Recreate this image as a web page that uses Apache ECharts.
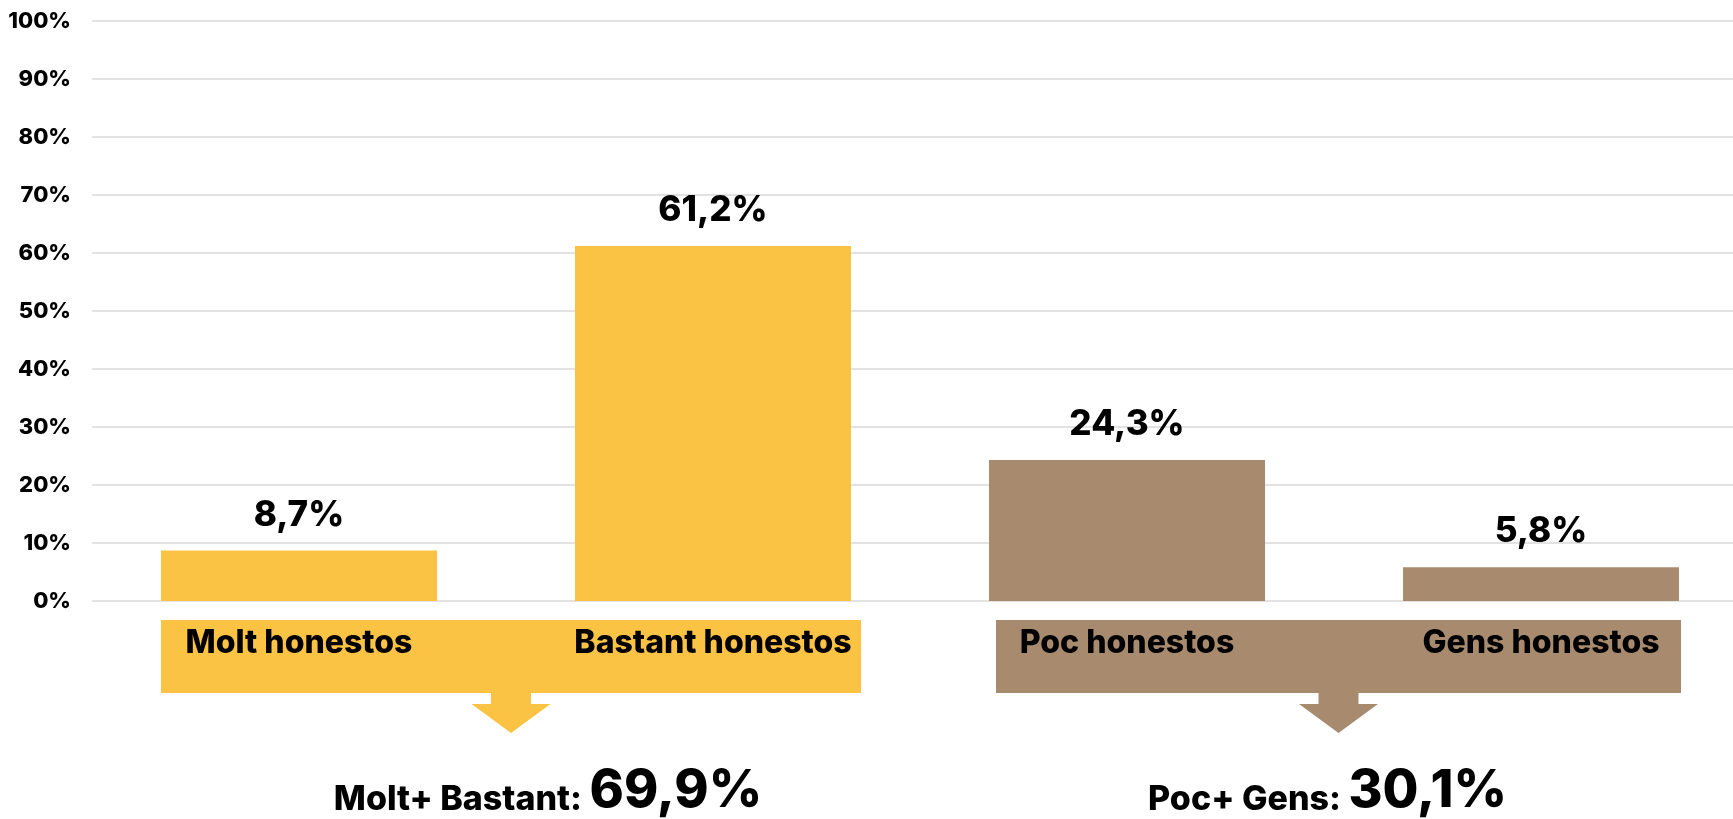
<!DOCTYPE html>
<html><head><meta charset="utf-8">
<script src="https://cdn.jsdelivr.net/npm/echarts@6/dist/echarts.min.js"></script>
<style>html,body{margin:0;padding:0;background:#fff}#c{width:1733px;height:819px}</style>
</head><body><div id="c"></div>
<script>
// ---- data ----
const categories = ['Molt honestos', 'Bastant honestos', 'Poc honestos', 'Gens honestos'];
const values = [8.7, 61.2, 24.3, 5.8];
const yMin = 0, yMax = 100, yStep = 10;
const groupMembers = [[0, 1], [2, 3]];
const groupLabels = ['Molt+ Bastant: ', 'Poc+ Gens: '];
const groupTotals = [69.9, 30.1];

// ---- styles ----
const COLORS = ['#FBC344', '#A88B6E'];
const FONT = 'Inter, Lato, sans-serif';
const W = 800;
const BAR_W = 276;
const fmt = v => v.toFixed(1).replace('.', ',') + '%';
const groupOf = i => groupMembers.findIndex(g => g.indexOf(i) >= 0);

const chart = echarts.init(document.getElementById('c'), null, {renderer: 'canvas'});
chart.setOption({
  animation: false,
  backgroundColor: '#fff',
  grid: {left: 92, top: 21, width: 1656, height: 580, containLabel: false, outerBoundsMode: 'none'},
  xAxis: {
    type: 'category', data: categories, z: 10,
    axisLine: {show: false}, axisTick: {show: false}, splitLine: {show: false},
    axisLabel: {interval: 0, margin: 26, fontFamily: FONT, fontWeight: W, fontSize: 32, color: '#000'}
  },
  yAxis: {
    type: 'value', min: yMin, max: yMax, interval: yStep,
    axisLine: {show: false}, axisTick: {show: false},
    axisLabel: {formatter: '{value}%', margin: 21, fontFamily: FONT, fontWeight: W, fontSize: 22, color: '#000'},
    splitLine: {lineStyle: {color: '#d9d9d9', width: 1.5}}
  },
  series: [{
    type: 'bar', barWidth: BAR_W,
    data: values.map((v, i) => ({value: v, itemStyle: {color: COLORS[groupOf(i)]}})),
    label: {show: true, position: 'top', distance: 18, formatter: p => fmt(p.value),
      fontFamily: FONT, fontWeight: W, fontSize: 35, color: '#000'}
  }]
});

// ---- group boxes, arrows and totals, positioned from the axes ----
const y0 = chart.convertToPixel({yAxisIndex: 0}, 0);
const BOX_PAD = [[0, 10], [7, 2]];
const TEXT_SHIFT = [37, -11];
const elements = [];
groupMembers.forEach((g, k) => {
  const xa = chart.convertToPixel({xAxisIndex: 0}, categories[g[0]]);
  const xb = chart.convertToPixel({xAxisIndex: 0}, categories[g[g.length - 1]]);
  const left = xa - BAR_W / 2 + BOX_PAD[k][0];
  const right = xb + BAR_W / 2 + BOX_PAD[k][1];
  const top = y0 + 19, h = 73;
  const cx = (left + right) / 2;
  elements.push({type: 'rect', z: 1, shape: {x: left, y: top, width: right - left, height: h},
    style: {fill: COLORS[k]}});
  const sb = top + h, sw = 20, hw = 39.5, st = 11, ht = 29;
  elements.push({type: 'polygon', z: 1, shape: {points: [
    [cx - sw, sb], [cx + sw, sb], [cx + sw, sb + st], [cx + hw, sb + st],
    [cx, sb + st + ht], [cx - hw, sb + st], [cx - sw, sb + st]]},
    style: {fill: COLORS[k]}});
  elements.push({type: 'text', z: 2, style: {
    text: '{a|' + groupLabels[k] + '}{b|' + fmt(groupTotals[k]) + '}',
    x: cx + TEXT_SHIFT[k], y: 817, align: 'center', verticalAlign: 'bottom',
    textAlign: 'center', textVerticalAlign: 'bottom',
    rich: {
      a: {fontFamily: FONT, fontWeight: W, fontSize: 34, lineHeight: 34, verticalAlign: 'bottom', fill: '#000', color: '#000'},
      b: {fontFamily: FONT, fontWeight: W, fontSize: 52, lineHeight: 52, verticalAlign: 'bottom', fill: '#000', color: '#000'}
    }
  }});
});
chart.setOption({graphic: {elements: elements}});
</script>
</body></html>
